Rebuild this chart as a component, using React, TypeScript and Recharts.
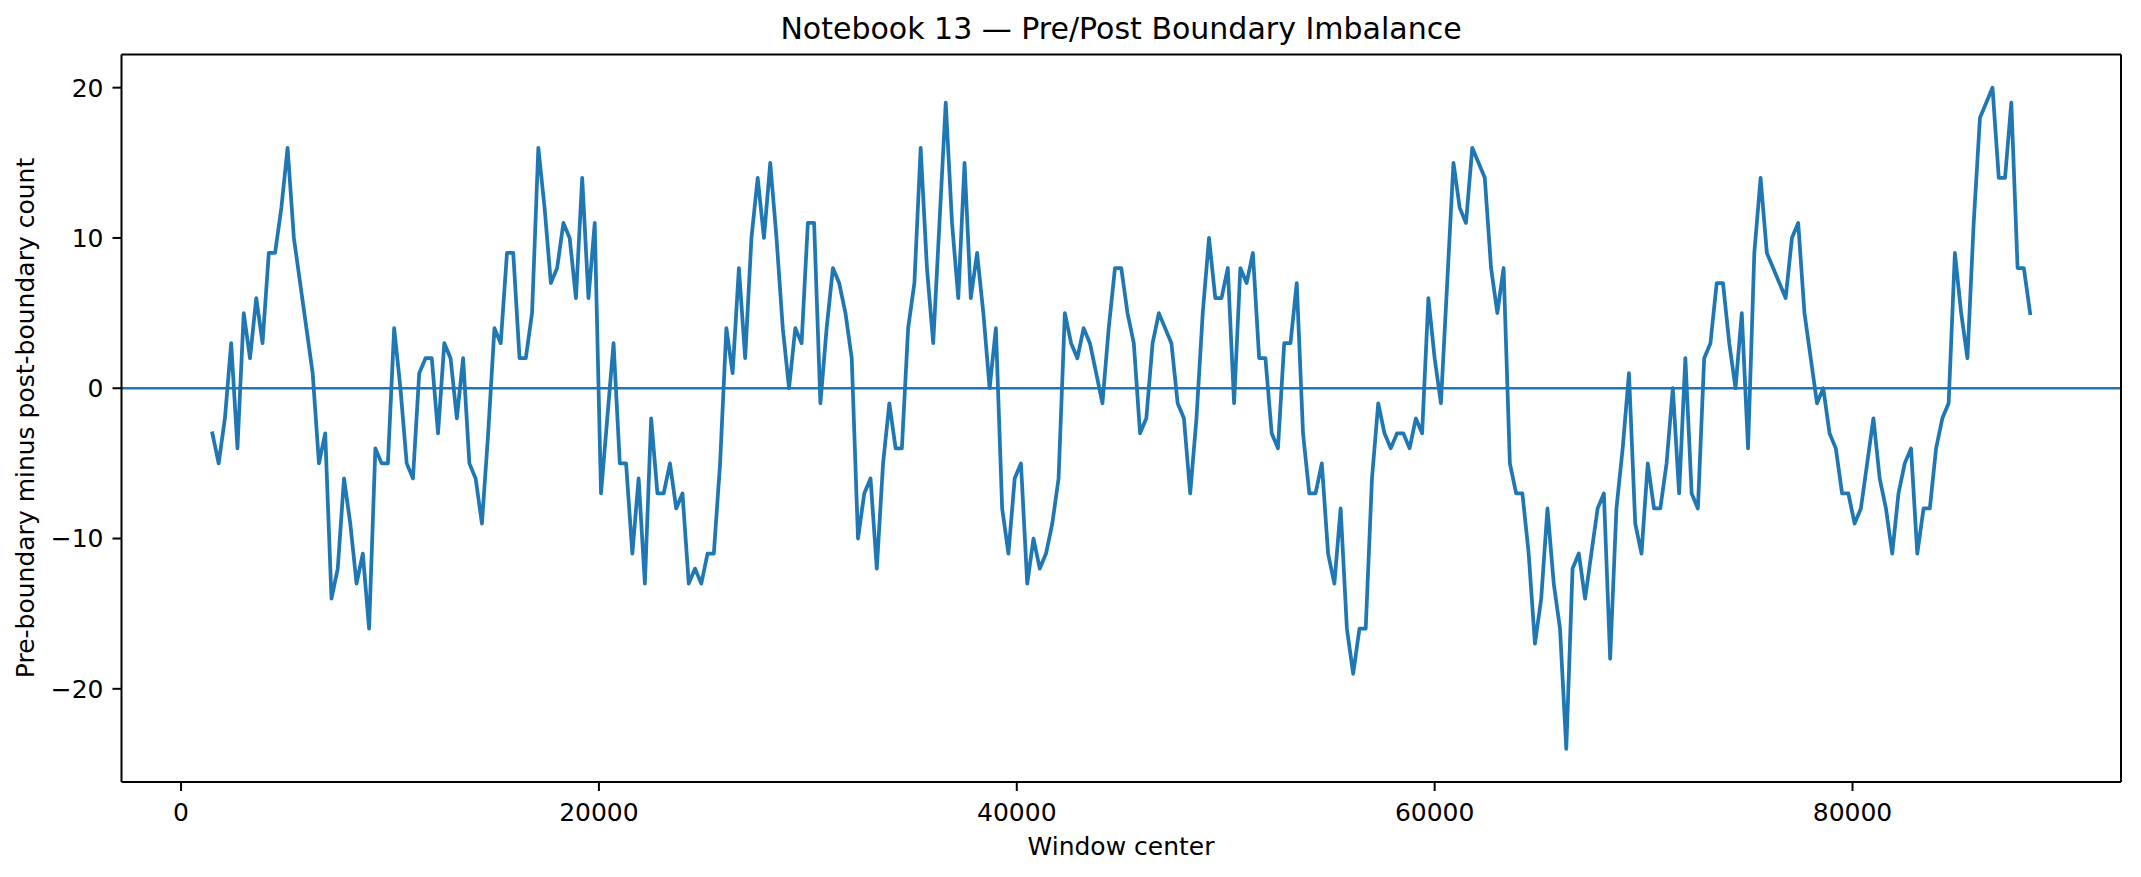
import React from 'react';
import { LineChart, Line, XAxis, YAxis, ReferenceLine } from 'recharts';

// Window centers: first window at 1500, step 300
const START = 1500;
const STEP = 300;

// Pre-boundary minus post-boundary count, per window
const imbalance = [
  -3, -5, -2, 3, -4, 5, 2, 6, 3, 9,
  9, 12, 16, 10, 7, 4, 1, -5, -3, -14,
  -12, -6, -9, -13, -11, -16, -4, -5, -5, 4,
  0, -5, -6, 1, 2, 2, -3, 3, 2, -2,
  2, -5, -6, -9, -3, 4, 3, 9, 9, 2,
  2, 5, 16, 12, 7, 8, 11, 10, 6, 14,
  6, 11, -7, -2, 3, -5, -5, -11, -6, -13,
  -2, -7, -7, -5, -8, -7, -13, -12, -13, -11,
  -11, -5, 4, 1, 8, 2, 10, 14, 10, 15,
  10, 4, 0, 4, 3, 11, 11, -1, 4, 8,
  7, 5, 2, -10, -7, -6, -12, -5, -1, -4,
  -4, 4, 7, 16, 8, 3, 11, 19, 11, 6,
  15, 6, 9, 5, 0, 4, -8, -11, -6, -5,
  -13, -10, -12, -11, -9, -6, 5, 3, 2, 4,
  3, 1, -1, 4, 8, 8, 5, 3, -3, -2,
  3, 5, 4, 3, -1, -2, -7, -2, 5, 10,
  6, 6, 8, -1, 8, 7, 9, 2, 2, -3,
  -4, 3, 3, 7, -3, -7, -7, -5, -11, -13,
  -8, -16, -19, -16, -16, -6, -1, -3, -4, -3,
  -3, -4, -2, -3, 6, 2, -1, 7, 15, 12,
  11, 16, 15, 14, 8, 5, 8, -5, -7, -7,
  -11, -17, -14, -8, -13, -16, -24, -12, -11, -14,
  -11, -8, -7, -18, -8, -4, 1, -9, -11, -5,
  -8, -8, -5, 0, -7, 2, -7, -8, 2, 3,
  7, 7, 3, 0, 5, -4, 9, 14, 9, 8,
  7, 6, 10, 11, 5, 2, -1, 0, -3, -4,
  -7, -7, -9, -8, -5, -2, -6, -8, -11, -7,
  -5, -4, -11, -8, -8, -4, -2, -1, 9, 5,
  2, 11, 18, 19, 20, 14, 14, 19, 8, 8,
  5,
];

const windowCenters = imbalance.map((_, i) => START + STEP * i);

const xTicks = [0, 20000, 40000, 60000, 80000];
const yTicks = [-20, -10, 0, 10, 20];
const xDomain: [number, number] = [-2850, 92850];
const yDomain: [number, number] = [-26.2, 22.2];

const TITLE = 'Notebook 13 \u2014 Pre/Post Boundary Imbalance';
const X_LABEL = 'Window center';
const Y_LABEL = 'Pre-boundary minus post-boundary count';

const data = windowCenters.map((x, i) => ({ x, v: imbalance[i] }));

const W = 2141;
const H = 877;
const FONT = '"DejaVu Sans", Verdana, sans-serif';
const BLUE = '#1f77b4';

const fmtY = (v: number) => (v < 0 ? '\u2212' + Math.abs(v) : String(v));

const tickStyle = { fill: '#000', fontSize: 25, fontFamily: FONT };
const spine = { stroke: '#000', strokeWidth: 2 };

export default function App() {
  return (
    <div style={{ position: 'absolute', left: 0, top: 0, width: W, height: H, background: '#fff' }}>
      <LineChart
        width={W}
        height={H}
        data={data}
        margin={{ top: 53.6, right: 19, bottom: 0, left: 0 }}
      >
        <XAxis
          dataKey="x"
          type="number"
          domain={xDomain}
          allowDataOverflow
          ticks={xTicks}
          height={95}
          tick={tickStyle}
          tickSize={9}
          tickMargin={12}
          tickLine={spine}
          axisLine={spine}
        />
        <XAxis
          xAxisId="top"
          orientation="top"
          dataKey="x"
          type="number"
          domain={xDomain}
          allowDataOverflow
          height={1}
          ticks={[]}
          tick={false}
          tickLine={false}
          axisLine={spine}
        />
        <YAxis
          type="number"
          domain={yDomain}
          allowDataOverflow
          ticks={yTicks}
          width={121.5}
          tick={tickStyle}
          tickFormatter={fmtY}
          tickSize={9}
          tickMargin={9}
          tickLine={spine}
          axisLine={spine}
        />
        <YAxis
          yAxisId="right"
          orientation="right"
          type="number"
          domain={yDomain}
          allowDataOverflow
          width={1}
          ticks={[]}
          tick={false}
          tickLine={false}
          axisLine={spine}
        />
        <ReferenceLine y={0} stroke={BLUE} strokeWidth={2.5} />
        <Line
          dataKey="v"
          type="linear"
          stroke={BLUE}
          strokeWidth={3.75}
          strokeLinejoin="round"
          strokeLinecap="square"
          dot={false}
          activeDot={false}
          isAnimationActive={false}
        />
      </LineChart>
      <svg
        width={W}
        height={H}
        style={{ position: 'absolute', left: 0, top: 0, pointerEvents: 'none' }}
      >
        <text x={1121} y={39} textAnchor="middle" fontFamily={FONT} fontSize={30} fill="#000">
          {TITLE}
        </text>
        <text x={1121} y={855} textAnchor="middle" fontFamily={FONT} fontSize={25} fill="#000">
          {X_LABEL}
        </text>
        <text
          transform="translate(34,418) rotate(-90)"
          textAnchor="middle"
          fontFamily={FONT}
          fontSize={25}
          fill="#000"
        >
          {Y_LABEL}
        </text>
      </svg>
    </div>
  );
}
